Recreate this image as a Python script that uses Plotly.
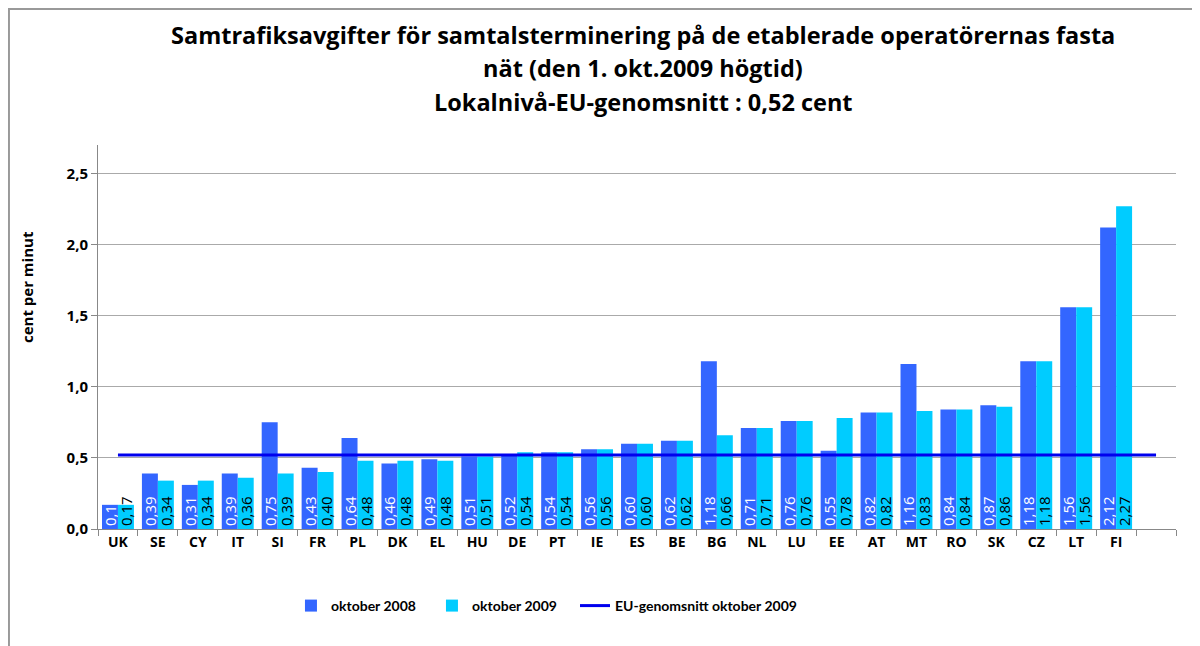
import plotly.graph_objects as go

countries = ["UK", "SE", "CY", "IT", "SI", "FR", "PL", "DK", "EL", "HU", "DE", "PT", "IE",
             "ES", "BE", "BG", "NL", "LU", "EE", "AT", "MT", "RO", "SK", "CZ", "LT", "FI"]
okt2008 = [0.17, 0.39, 0.31, 0.39, 0.75, 0.43, 0.64, 0.46, 0.49, 0.51, 0.52, 0.54, 0.56,
           0.60, 0.62, 1.18, 0.71, 0.76, 0.55, 0.82, 1.16, 0.84, 0.87, 1.18, 1.56, 2.12]
okt2009 = [0.17, 0.34, 0.34, 0.36, 0.39, 0.40, 0.48, 0.48, 0.48, 0.51, 0.54, 0.54, 0.56,
           0.60, 0.62, 0.66, 0.71, 0.76, 0.78, 0.82, 0.83, 0.84, 0.86, 1.18, 1.56, 2.27]
labels2008 = ["0,1", "0,39", "0,31", "0,39", "0,75", "0,43", "0,64", "0,46", "0,49", "0,51",
              "0,52", "0,54", "0,56", "0,60", "0,62", "1,18", "0,71", "0,76", "0,55", "0,82",
              "1,16", "0,84", "0,87", "1,18", "1,56", "2,12"]
labels2009 = ["0,17", "0,34", "0,34", "0,36", "0,39", "0,40", "0,48", "0,48", "0,48", "0,51",
              "0,54", "0,54", "0,56", "0,60", "0,62", "0,66", "0,71", "0,76", "0,78", "0,82",
              "0,83", "0,84", "0,86", "1,18", "1,56", "2,27"]
eu_avg = 0.52
categories = countries + [" "]
title_lines = ["Samtrafiksavgifter för samtalsterminering på de etablerade operatörernas fasta",
               "nät (den 1. okt.2009 högtid)",
               "Lokalnivå-EU-genomsnitt : 0,52 cent"]

label_font = "Open Sans, Liberation Sans, sans-serif"
bold_font = "Open Sans, sans-serif"
legend_font = "Lato, sans-serif"

fig = go.Figure()
fig.add_trace(go.Bar(
    x=countries, y=okt2008, name="oktober 2008", marker=dict(color="#3366FF", line=dict(width=0)),
    text=labels2008, textposition="inside", insidetextanchor="start", textangle=-90,
    constraintext="none", cliponaxis=False, legend="legend",
    textfont=dict(color="white", size=15, family=label_font),
))
fig.add_trace(go.Bar(
    x=countries, y=okt2009, name="oktober 2009", marker=dict(color="#00CCFF", line=dict(width=0)),
    text=labels2009, textposition="inside", insidetextanchor="start", textangle=-90,
    constraintext="none", cliponaxis=False, legend="legend2",
    textfont=dict(color="black", size=15, family=label_font),
))
fig.add_trace(go.Scatter(
    x=categories, y=[eu_avg] * len(categories), mode="lines", legend="legend3",
    name="EU-genomsnitt oktober 2009", line=dict(color="#0000EE", width=3),
))

leg_common = dict(orientation="h", xanchor="left", y=-0.2005, yanchor="middle",
                  font=dict(family=legend_font, size=14, color="black", weight="bold"),
                  itemwidth=30, bgcolor="rgba(0,0,0,0)")

fig.update_layout(
    width=1192, height=638,
    margin=dict(l=90, r=24, t=137, b=117, autoexpand=False),
    paper_bgcolor="white", plot_bgcolor="white",
    barmode="group", bargap=0.2, bargroupgap=0,
    legend=dict(x=0.179, **leg_common),
    legend2=dict(x=0.3098, **leg_common),
    legend3=dict(x=0.4425, **leg_common),
    showlegend=True,
)
for txt, yy in zip(title_lines, [1.2865, 1.2005, 1.112]):
    fig.add_annotation(text=txt, xref="paper", yref="paper", x=0.5056, y=yy,
                       xanchor="center", yanchor="middle", showarrow=False,
                       font=dict(family=bold_font, size=23.5, color="black", weight="bold"))
fig.add_annotation(text="cent per minut", xref="paper", yref="paper", x=-0.0659, y=0.630,
                   xanchor="center", yanchor="middle", showarrow=False, textangle=-90,
                   font=dict(family=bold_font, size=15, color="black", weight="bold"))

fig.update_xaxes(
    type="category", categoryorder="array", categoryarray=categories,
    tickson="boundaries", ticks="outside", ticklen=6, tickcolor="#888888",
    showline=True, linecolor="#888888", linewidth=1,
    tickfont=dict(family=bold_font, size=14, color="black", weight="bold"),
    showgrid=False, range=[-0.5, 26.5], automargin=False,
)
fig.update_yaxes(
    range=[0, 2.7], tickvals=[0, 0.5, 1.0, 1.5, 2.0, 2.5],
    ticktext=["0,0", "0,5", "1,0", "1,5", "2,0", "2,5"],
    ticks="outside", ticklen=6, tickcolor="#888888",
    showline=True, linecolor="#888888", linewidth=1,
    showgrid=True, gridcolor="#AAAAAA", gridwidth=1, zeroline=False,
    tickfont=dict(family=bold_font, size=15, color="black", weight="bold"),
    automargin=False,
)
fig.add_shape(type="rect", xref="paper", yref="paper",
              x0=-0.0826, y0=-0.5, x1=1.2, y1=1.354,
              line=dict(color="#999999", width=2), fillcolor="rgba(0,0,0,0)", layer="below")

fig.write_html("out.html")
